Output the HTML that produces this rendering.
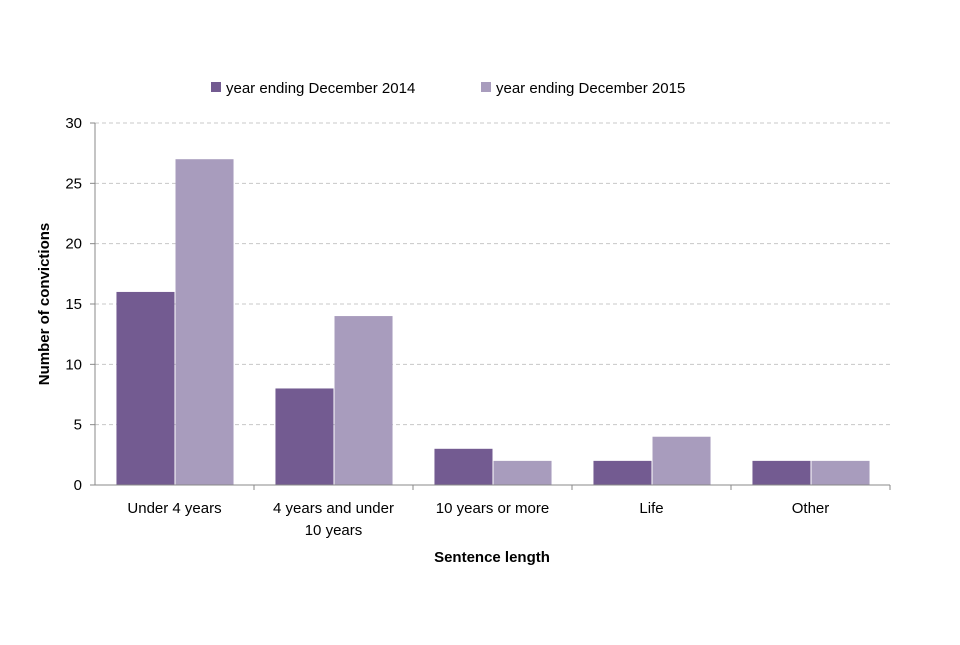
<!DOCTYPE html>
<html><head><meta charset="utf-8"><style>
body{margin:0;background:#fff;}
svg text{font-family:"Liberation Sans","DejaVu Sans",sans-serif;fill:#000;}
</style></head><body>
<svg width="960" height="640" xmlns="http://www.w3.org/2000/svg">
<g id="legend">
<rect x="211" y="82" width="10" height="10" fill="#735b91"/>
<text x="226" y="93" font-size="15">year ending December 2014</text>
<rect x="481" y="82" width="10" height="10" fill="#a89cbd"/>
<text x="496" y="93" font-size="15">year ending December 2015</text>
</g>
<g id="grid"></g><g id="bars"></g><g id="axes"></g>
<text transform="translate(49,304) rotate(-90)" text-anchor="middle" font-size="15" font-weight="bold">Number of convictions</text>
<text x="492" y="562" text-anchor="middle" font-size="15" font-weight="bold">Sentence length</text>
</svg>
<script>
const categories=[["Under 4 years"],["4 years and under","10 years"],["10 years or more"],["Life"],["Other"]];
const values2014=[16,8,3,2,2];
const values2015=[27,14,2,4,2];
const yTicks=[0,5,10,15,20,25,30];
const NS="http://www.w3.org/2000/svg";
const x0=95,x1=890,y0=485,yTop=123,yMax=30;
const bw=(x1-x0)/categories.length;
const y=v=>y0-(v/yMax)*(y0-yTop);
function mk(tag,attrs,parent){const e=document.createElementNS(NS,tag);for(const k in attrs)e.setAttribute(k,attrs[k]);document.getElementById(parent).appendChild(e);return e;}
yTicks.forEach(t=>{
 if(t>0){const g=mk('line',{x1:x0,x2:x1,y1:y(t),y2:y(t),stroke:'#c8c8c8','stroke-dasharray':'4,3'},'grid');
 
 }
 const tk=mk('line',{x1:x0-5,x2:x0,y1:y(t),y2:y(t),stroke:'#888'},'axes');
 
 
 const tx=mk('text',{x:x0-13,y:y(t)+5,'text-anchor':'end','font-size':15},'axes');
 tx.textContent=t;
 
 
});
const ya=mk('line',{x1:x0,x2:x0,y1:yTop,y2:y0,stroke:'#888'},'axes');


const xa=mk('line',{x1:x0,x2:x1,y1:y0,y2:y0,stroke:'#888'},'axes');


const barW=bw*0.365,gap=bw*0.135;
categories.forEach((c,i)=>{
 const gx=x0+i*bw;
 const b1=mk('rect',{x:gx+gap,y:y(values2014[i]),width:barW,height:y0-y(values2014[i]),fill:'#735b91'},'bars');
 
 
 const b2=mk('rect',{x:gx+gap+barW+1,y:y(values2015[i]),width:barW,height:y0-y(values2015[i]),fill:'#a89cbd'},'bars');
 
 
 const tk=mk('line',{x1:gx+bw,x2:gx+bw,y1:y0,y2:y0+5,stroke:'#888'},'axes');
 
 
 c.forEach((ln,j)=>{
  const t=mk('text',{x:gx+bw/2,y:513+j*22,'text-anchor':'middle','font-size':15},'axes');
  t.textContent=ln;
  
  
 });
});
</script>
</body></html>
